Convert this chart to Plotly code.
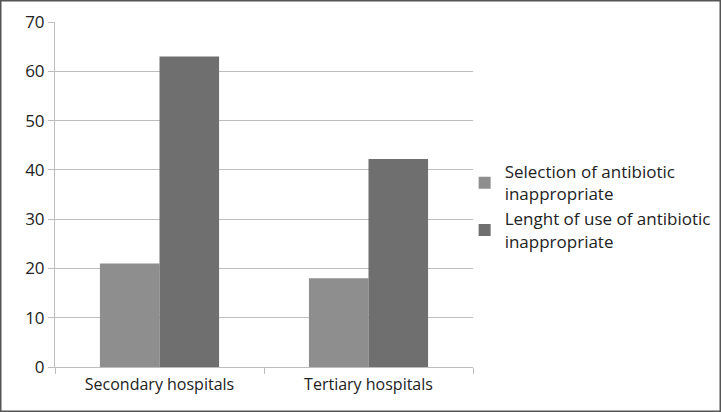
import plotly.graph_objects as go

categories = ['Secondary hospitals', 'Tertiary hospitals']
selection_vals = [21, 18]
length_vals = [63, 42.2]
series_names = ['Selection of antibiotic<br>inappropriate',
                'Lenght of use of antibiotic<br>inappropriate']
y_ticks = [0, 10, 20, 30, 40, 50, 60, 70]

W, H = 721, 412
L, R, T, B = 55, 248, 22, 45
pw, ph = W - L - R, H - T - B

fig = go.Figure()
fig.add_trace(go.Bar(x=categories, y=selection_vals, name=series_names[0],
                     marker=dict(color='#8e8e8e', line=dict(width=0))))
fig.add_trace(go.Bar(x=categories, y=length_vals, name=series_names[1],
                     marker=dict(color='#6f6f6f', line=dict(width=0))))

# outer frame around the whole picture
fig.add_shape(type='rect', xref='paper', yref='paper',
              x0=(0.75 - L) / pw, x1=(W - 0.75 - L) / pw,
              y0=(0.75 - B) / ph, y1=(H - B - 0.75) / ph,
              line=dict(color='#555555', width=1.5), layer='above')

fig.update_layout(
    width=W, height=H,
    margin=dict(l=L, r=R, t=T, b=B, autoexpand=False),
    paper_bgcolor='white', plot_bgcolor='white',
    barmode='group', bargap=0.43, bargroupgap=0,
    font=dict(family='Open Sans, Liberation Sans, sans-serif', size=16, color='#222222'),
    showlegend=True,
    legend=dict(x=0.98, y=0.465, xanchor='left', yanchor='middle',
                font=dict(size=17), tracegroupgap=12, itemwidth=30,
                bgcolor='rgba(0,0,0,0)'),
)
fig.update_yaxes(range=[0, 70], tickvals=y_ticks, showgrid=True, gridcolor='#bdbdbd',
                 gridwidth=1, showline=True, linecolor='#bdbdbd', ticks='outside',
                 ticklen=6, tickcolor='#bdbdbd', zeroline=False, tickfont=dict(size=17))
fig.update_xaxes(showline=True, linecolor='#bdbdbd', ticks='outside', tickson='boundaries',
                 ticklen=6, tickcolor='#bdbdbd', showgrid=False, ticklabelstandoff=3)

# drop the default page margin so the figure sits at the window origin
fig.write_html("out.html", config={'displayModeBar': False},
               post_script="document.body.style.margin='0';")
